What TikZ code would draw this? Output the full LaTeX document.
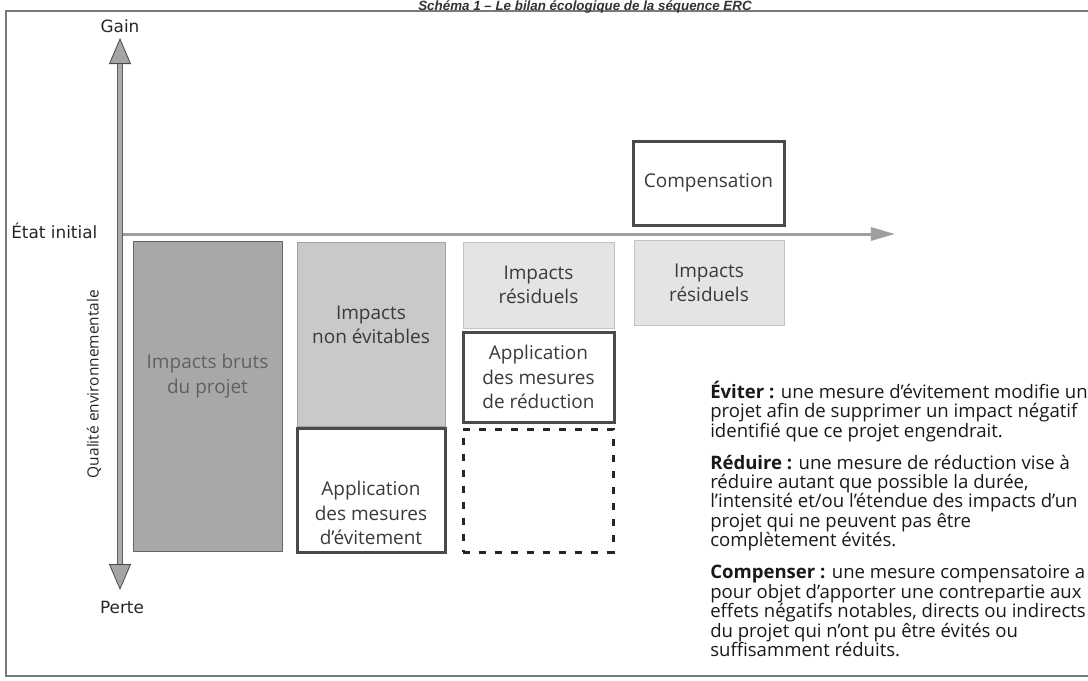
\documentclass[tikz,border=0pt]{standalone}
\usepackage{fontspec}
\setmainfont{Open Sans}
\newfontfamily\dejavu{DejaVu Sans}
\newfontfamily\titrefont{Liberation Sans}
\usetikzlibrary{arrows.meta,positioning}
\definecolor{gristexte}{HTML}{3A3A3A}
\definecolor{grisbrut}{HTML}{A8A8A8}
\definecolor{grisinev}{HTML}{C9C9C9}
\definecolor{grisresid}{HTML}{E4E4E4}
\definecolor{grisbord}{HTML}{4A4A4A}
\definecolor{grisaxe}{HTML}{8E8E8E}
\definecolor{griscadre}{HTML}{7A7A7A}
\newdimen\pxl \pxl=0.025cm
\newcommand\policedef{\fontsize{13.2}{13.8}\selectfont\lineskiplimit-20pt\relax}

\begin{document}
\begin{tikzpicture}[x=0.025cm, y=-0.025cm,
  every node/.style={inner sep=0pt},
  bloc/.style={rectangle, align=center, text=gristexte,
    font=\fontsize{13.5}{17.5}\selectfont},
  impact/.style={bloc, line width=0.8\pxl},
  mesure/.style={bloc, draw=grisbord, fill=white, line width=3\pxl},
  vide/.style={draw=black!85, line width=3\pxl, dash pattern=on 7\pxl off 9\pxl},
  axe/.style={line width=6\pxl, draw=grisbord!90,
    {Triangle[length=0.65cm, width=0.55cm, fill=grisaxe!80, color=grisbord, line width=0.02cm]}-{Triangle[length=0.65cm, width=0.55cm, fill=grisaxe!80, color=grisbord, line width=0.02cm]}},
  axeh/.style={line width=3\pxl, draw=grisaxe!85,
    -{Triangle[length=0.6cm, width=0.325cm]}},
  axelab/.style={font=\dejavu\fontsize{12}{15}\selectfont, text=black!85},
  defin/.style={font=\policedef, align=left, anchor=north west, text=black!90}]
\useasboundingbox (0,0) rectangle (1088,680);
\clip (0,0) rectangle (1088,680);

% cadre et titre
\draw[griscadre, line width=1.5\pxl] (1095,11) -| (6,676) -- (1095,676);
\node[font=\titrefont\bfseries\itshape\fontsize{9.5}{11}\selectfont, anchor=base,
  text=black!80] (titre) at (585,10) {Schéma 1 – Le bilan écologique de la séquence ERC};

% axes
\coordinate (haut) at (120,38);
\coordinate (bas) at (120,590);
\coordinate (orig) at (120,234);
\coordinate (fin) at (895,234);
\draw[axeh] (orig) -- (fin);
\draw[axe] (bas) -- (haut);
\draw[grisaxe!75, line width=3.2\pxl, shorten <=0.66cm, shorten >=0.66cm] (bas) -- (haut);
\node[axelab] (gain) at (120,26) {Gain};
\node[axelab] (perte) at (122,607) {Perte};
\node[axelab, anchor=west] (etat) at (11,231) {État initial};
\node[axelab, font=\fontsize{11}{13}\selectfont, rotate=90] (qualite) at (94,384)
  {Qualité environnementale};

% impacts
\node[impact, fill=grisbrut, draw=grisbrut!60!black, minimum width=149\pxl,
  minimum height=310\pxl] (brut) at (207.5,396) {};
\node[bloc, text=black!62] (brut-t) at (207.5,376) {Impacts bruts\\du projet};
\node[impact, fill=grisinev, draw=grisinev!80!black, minimum width=148\pxl,
  minimum height=184\pxl] (inev) at (371,334) {};
\node[bloc] (inev-t) at (371,325) {Impacts\\non évitables};
\node[impact, fill=grisresid, draw=grisresid!85!black, minimum width=151\pxl,
  minimum height=86\pxl] (resid1) at (538.5,285) {Impacts\\résiduels};
\node[impact, fill=grisresid, draw=grisresid!85!black, minimum width=150\pxl,
  minimum height=85\pxl] (resid2) at (709,283) {Impacts\\résiduels};

% mesures
\node[mesure, minimum width=148\pxl, minimum height=124\pxl] (evit) at (371,490) {};
\node[bloc] (evit-t) at (371,513) {Application\\des mesures\\d’évitement};
\node[mesure, minimum width=151\pxl, minimum height=90\pxl] (reduc) at (538.5,377)
  {Application\\des mesures\\de réduction};
\node[vide, minimum width=150\pxl, minimum height=123\pxl] (pointil) at (538,490.5) {};
\node[mesure, minimum width=151\pxl, minimum height=84\pxl] (compens) at (708.5,183)
  {Compensation};

% definitions
\node[defin] (eviter) at (710,381) {\textbf{Éviter~:} une mesure d’évitement modifie un\\
  projet afin de supprimer un impact négatif\\
  identifié que ce projet engendrait.};
\node[defin, below=12.5\pxl of eviter.south west, anchor=north west] (reduire)
  {\textbf{Réduire~:} une mesure de réduction vise à\\
  réduire autant que possible la durée,\\
  l’intensité et/ou l’étendue des impacts d’un\\
  projet qui ne peuvent pas être\\
  complètement évités.};
\node[defin, below=13.5\pxl of reduire.south west, anchor=north west] (compenser)
  {\textbf{Compenser~:} une mesure compensatoire a\\
  pour objet d’apporter une contrepartie aux\\
  effets négatifs notables, directs ou indirects\\
  du projet qui n’ont pu être évités ou\\
  suffisamment réduits.};
\end{tikzpicture}
\end{document}
